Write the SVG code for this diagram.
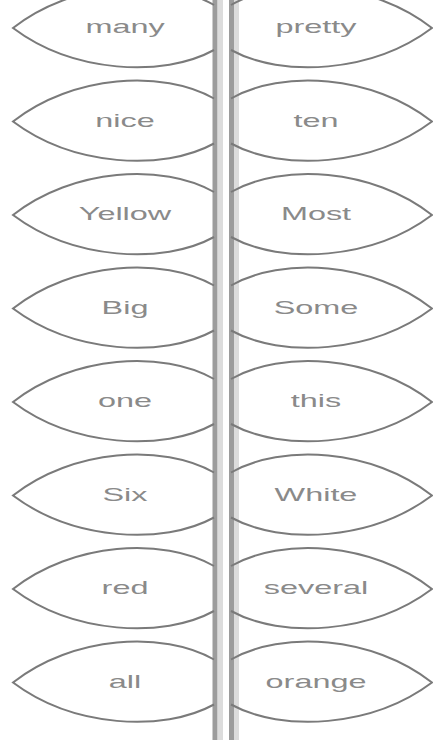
<svg xmlns="http://www.w3.org/2000/svg" xmlns:xlink="http://www.w3.org/1999/xlink" width="433" height="740" viewBox="0 0 433 740">
<style>
.leaf{fill:none;stroke:#7a7a7a;stroke-width:2}
.lbl{font-family:"Liberation Sans",Arial,sans-serif;font-size:18px;fill:#8a8a8a;text-anchor:middle}
.stem{stroke:#9c9c9c;stroke-width:5}
.stem2{stroke:#dcdcdc;stroke-width:5}
</style>
<defs>
<path id="lf" class="leaf" d="M 201,-23 C 150,-52 60,-47 0,0 C 60,45 150,50 201,22"/>
</defs>
<rect width="433" height="740" fill="#ffffff"/>
<g id="connectors">
<line class="stem2" x1="220.5" y1="0" x2="220.5" y2="740"/>
<line class="stem" x1="215" y1="0" x2="215" y2="740"/>
<line class="stem2" x1="236.5" y1="0" x2="236.5" y2="740"/>
<line class="stem" x1="231.5" y1="0" x2="231.5" y2="740"/>
</g>
<g id="many"><use xlink:href="#lf" transform="translate(13,28)"/><text class="lbl" transform="translate(125,33) scale(1.8,1)">many</text></g>
<g id="pretty"><use xlink:href="#lf" transform="translate(432,28) scale(-1,1)"/><text class="lbl" transform="translate(316,33) scale(1.8,1)">pretty</text></g>
<g id="nice"><use xlink:href="#lf" transform="translate(13,121.5)"/><text class="lbl" transform="translate(125,126.5) scale(1.8,1)">nice</text></g>
<g id="ten"><use xlink:href="#lf" transform="translate(432,121.5) scale(-1,1)"/><text class="lbl" transform="translate(316,126.5) scale(1.8,1)">ten</text></g>
<g id="Yellow"><use xlink:href="#lf" transform="translate(13,215)"/><text class="lbl" transform="translate(125,220) scale(1.8,1)">Yellow</text></g>
<g id="Most"><use xlink:href="#lf" transform="translate(432,215) scale(-1,1)"/><text class="lbl" transform="translate(316,220) scale(1.8,1)">Most</text></g>
<g id="Big"><use xlink:href="#lf" transform="translate(13,308.5)"/><text class="lbl" transform="translate(125,313.5) scale(1.8,1)">Big</text></g>
<g id="Some"><use xlink:href="#lf" transform="translate(432,308.5) scale(-1,1)"/><text class="lbl" transform="translate(316,313.5) scale(1.8,1)">Some</text></g>
<g id="one"><use xlink:href="#lf" transform="translate(13,402)"/><text class="lbl" transform="translate(125,407) scale(1.8,1)">one</text></g>
<g id="this"><use xlink:href="#lf" transform="translate(432,402) scale(-1,1)"/><text class="lbl" transform="translate(316,407) scale(1.8,1)">this</text></g>
<g id="Six"><use xlink:href="#lf" transform="translate(13,495.5)"/><text class="lbl" transform="translate(125,500.5) scale(1.8,1)">Six</text></g>
<g id="White"><use xlink:href="#lf" transform="translate(432,495.5) scale(-1,1)"/><text class="lbl" transform="translate(316,500.5) scale(1.8,1)">White</text></g>
<g id="red"><use xlink:href="#lf" transform="translate(13,589)"/><text class="lbl" transform="translate(125,594) scale(1.8,1)">red</text></g>
<g id="several"><use xlink:href="#lf" transform="translate(432,589) scale(-1,1)"/><text class="lbl" transform="translate(316,594) scale(1.8,1)">several</text></g>
<g id="all"><use xlink:href="#lf" transform="translate(13,682.5)"/><text class="lbl" transform="translate(125,687.5) scale(1.8,1)">all</text></g>
<g id="orange"><use xlink:href="#lf" transform="translate(432,682.5) scale(-1,1)"/><text class="lbl" transform="translate(316,687.5) scale(1.8,1)">orange</text></g>
</svg>
